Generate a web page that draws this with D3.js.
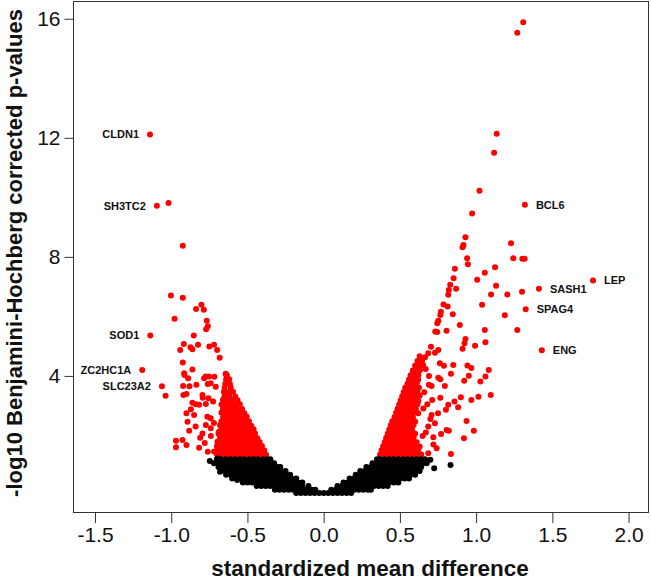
<!DOCTYPE html>
<html>
<head>
<meta charset="utf-8">
<script src="https://cdn.jsdelivr.net/npm/d3@7/dist/d3.min.js"></script>
<style>
  html, body { margin: 0; padding: 0; background: #fff; }
  svg { display: block; }
</style>
</head>
<body>
<div id="chart"></div>
<script>
// ---- data ----
const xTicks = [-1.5, -1.0, -0.5, 0.0, 0.5, 1.0, 1.5, 2.0]
const yTicks = [4, 8, 12, 16]

// labelled genes
const geneNames = ["CLDN1", "SH3TC2", "SOD1", "ZC2HC1A", "SLC23A2", "BCL6", "LEP", "SASH1", "SPAG4", "ENG"]
const geneX     = [-1.139, -1.094, -1.137, -1.190, -1.061, 1.320, 1.767, 1.412, 1.325, 1.431]
const geneY     = [12.11, 9.72, 5.36, 4.20, 3.65, 9.75, 7.21, 6.93, 6.24, 4.86]

// significant genes (red), scattered part, left side
const redLeft = [
  [-1.018,9.81],[-0.924,8.37],[-1.037,3.33],[-1.002,6.70],[-0.924,6.63],[-0.978,5.92],
  [-0.837,6.25],[-0.802,6.39],[-0.786,6.22],[-0.767,5.85],[-0.760,5.67],[-0.771,5.57],
  [-0.852,5.36],[-0.917,5.07],[-0.941,4.87],[-0.874,4.96],[-0.824,5.05],[-0.861,4.90],
  [-0.750,4.99],[-0.719,5.05],[-0.699,4.87],[-0.682,4.61],[-0.924,4.45],[-0.861,4.22],
  [-0.913,4.03],[-0.889,3.92],[-0.773,3.98],[-0.717,3.97],[-0.708,3.64],[-0.639,4.03],
  [-0.625,3.81],[-0.922,3.66],[-0.835,3.70],[-0.880,3.65],[-0.760,3.73],[-0.920,3.36],
  [-0.861,3.10],[-0.793,3.27],[-0.725,3.14],[-0.658,3.22],[-0.900,2.75],[-0.839,3.05],
  [-0.773,3.06],[-0.850,2.69],[-0.915,4.09],[-0.784,3.92],[-0.752,3.98],[-0.643,4.07],
  [-0.741,3.75],[-0.900,3.39],[-0.795,3.36],[-0.756,3.25],[-0.643,3.19],[-0.817,3.03],
  [-0.871,2.88],[-0.741,2.58],[-0.665,2.80],[-0.893,2.46],[-0.741,2.24],[-0.686,2.13],
  [-0.882,2.16],[-0.969,1.82],[-0.926,1.85],[-0.969,1.60],[-0.817,1.59],[-0.900,1.68],
  [-0.697,1.79],[-0.719,1.46],[-0.763,2.63],[-0.773,2.35],[-0.795,2.07],[-0.720,2.42],
  [-0.780,1.75],[-0.760,1.45],[-0.840,2.30],[-0.810,1.92],[-0.740,1.98]
]

// significant genes (red), dense wing on the left
const redLeftDense = [
  [-0.70,1.36],[-0.67,1.37],[-0.64,1.35],[-0.61,1.36],[-0.58,1.37],[-0.55,1.35],[-0.52,1.36],[-0.49,1.37],[-0.46,1.35],[-0.43,1.36],[-0.40,1.37],[-0.378,1.35],
  [-0.69,1.50],[-0.66,1.49],[-0.63,1.51],[-0.60,1.50],[-0.57,1.49],[-0.54,1.51],[-0.51,1.50],[-0.48,1.49],[-0.45,1.51],[-0.42,1.50],[-0.39,1.50],
  [-0.70,1.64],[-0.67,1.65],[-0.64,1.63],[-0.61,1.64],[-0.58,1.65],[-0.55,1.63],[-0.52,1.64],[-0.49,1.65],[-0.46,1.63],[-0.43,1.64],[-0.405,1.65],
  [-0.69,1.78],[-0.66,1.77],[-0.63,1.79],[-0.60,1.78],[-0.57,1.77],[-0.54,1.79],[-0.51,1.78],[-0.48,1.77],[-0.45,1.79],[-0.42,1.78],
  [-0.68,1.92],[-0.65,1.93],[-0.62,1.91],[-0.59,1.92],[-0.56,1.93],[-0.53,1.91],[-0.50,1.92],[-0.47,1.93],[-0.435,1.91],
  [-0.69,2.06],[-0.66,2.05],[-0.63,2.07],[-0.60,2.06],[-0.57,2.05],[-0.54,2.07],[-0.51,2.06],[-0.48,2.05],[-0.45,2.07],
  [-0.67,2.20],[-0.64,2.21],[-0.61,2.19],[-0.58,2.20],[-0.55,2.21],[-0.52,2.19],[-0.49,2.20],[-0.46,2.21],
  [-0.68,2.34],[-0.65,2.33],[-0.62,2.35],[-0.59,2.34],[-0.56,2.33],[-0.53,2.35],[-0.50,2.34],[-0.475,2.33],
  [-0.67,2.48],[-0.64,2.49],[-0.61,2.47],[-0.58,2.48],[-0.55,2.49],[-0.52,2.47],[-0.49,2.48],
  [-0.66,2.62],[-0.63,2.61],[-0.60,2.63],[-0.57,2.62],[-0.54,2.61],[-0.505,2.63],
  [-0.67,2.76],[-0.64,2.77],[-0.61,2.75],[-0.58,2.76],[-0.55,2.77],[-0.52,2.75],
  [-0.66,2.90],[-0.63,2.89],[-0.60,2.91],[-0.57,2.90],[-0.535,2.89],
  [-0.67,3.04],[-0.64,3.05],[-0.61,3.03],[-0.58,3.04],[-0.55,3.05],
  [-0.66,3.18],[-0.63,3.17],[-0.60,3.19],[-0.565,3.18],
  [-0.65,3.32],[-0.62,3.33],[-0.58,3.31],
  [-0.655,3.46],[-0.625,3.45],[-0.595,3.47],
  [-0.65,3.60],[-0.61,3.61],
  [-0.645,3.74],[-0.615,3.73],
  [-0.64,3.88],[-0.62,3.89],
  [-0.635,4.02]
]

// significant genes (red), scattered part, right side
const redRight = [
  [1.309,15.88],[1.270,15.53],[1.135,12.14],[1.118,11.50],[1.022,10.22],[0.974,9.46],
  [0.930,8.66],[0.917,8.40],[0.911,8.32],[1.229,8.46],[0.941,7.95],[0.946,7.75],
  [1.244,7.95],[1.303,7.94],[1.318,7.94],[1.124,7.65],[1.057,7.47],[0.861,7.60],
  [0.852,7.28],[1.007,7.23],[1.131,7.03],[0.830,7.06],[0.869,6.93],[0.817,6.73],
  [0.821,6.89],[1.301,6.83],[1.205,6.74],[1.098,6.74],[1.188,6.04],[1.039,6.39],
  [0.786,6.40],[0.813,6.33],[0.769,6.16],[0.765,6.05],[0.847,6.07],[0.752,5.85],
  [0.745,5.77],[0.893,5.71],[0.732,5.49],[0.745,5.48],[0.806,5.52],[1.057,5.54],
  [1.270,5.54],[0.930,5.24],[0.924,5.10],[1.061,5.13],[0.993,5.01],[0.911,4.91],
  [0.704,4.98],[0.752,4.87],[0.730,4.78],[0.686,4.76],[0.665,4.63],[0.762,4.43],
  [0.789,4.34],[0.850,4.37],[0.943,4.35],[0.969,4.27],[1.083,4.20],[0.652,4.37],
  [0.669,4.23],[0.691,4.00],[0.752,3.94],[0.835,4.07],[0.952,4.01],[1.061,3.98],
  [0.632,4.20],[0.621,4.03],[0.765,3.89],[0.795,3.66],[0.922,3.84],[1.028,3.81],
  [0.708,3.66],[0.621,3.16],[0.712,3.19],[0.765,3.27],[0.817,3.03],[0.858,3.14],
  [0.900,3.28],[0.969,3.19],[1.015,3.30],[1.096,3.36],[0.882,2.95],[0.802,2.86],
  [0.708,2.69],[0.654,2.91],[0.937,2.49],[0.806,2.18],[0.821,2.16],[0.985,2.16],
  [0.920,1.91],[0.741,1.57],[0.835,1.38],[0.719,1.94],[0.649,1.98],[0.686,2.30],
  [0.730,2.41],[0.686,1.40],[0.660,3.45],[0.680,3.05],[0.700,2.55],[0.670,2.10],
  [0.720,1.70],[0.750,2.75],[0.690,3.70],[0.770,2.05]
]

// significant genes (red), dense wing on the right
const redRightDense = [
  [0.37,1.36],[0.40,1.37],[0.43,1.35],[0.46,1.36],[0.49,1.37],[0.52,1.35],[0.55,1.36],[0.58,1.37],[0.61,1.35],[0.64,1.36],
  [0.38,1.50],[0.41,1.49],[0.44,1.51],[0.47,1.50],[0.50,1.49],[0.53,1.51],[0.56,1.50],[0.59,1.49],[0.62,1.51],
  [0.39,1.64],[0.42,1.65],[0.45,1.63],[0.48,1.64],[0.51,1.65],[0.54,1.63],[0.57,1.64],[0.60,1.65],[0.63,1.63],
  [0.40,1.78],[0.43,1.77],[0.46,1.79],[0.49,1.78],[0.52,1.77],[0.55,1.79],[0.58,1.78],[0.61,1.77],
  [0.41,1.92],[0.44,1.93],[0.47,1.91],[0.50,1.92],[0.53,1.93],[0.56,1.91],[0.59,1.92],
  [0.42,2.06],[0.45,2.05],[0.48,2.07],[0.51,2.06],[0.54,2.05],[0.57,2.07],[0.60,2.06],
  [0.43,2.20],[0.46,2.21],[0.49,2.19],[0.52,2.20],[0.55,2.21],[0.58,2.19],
  [0.44,2.34],[0.47,2.33],[0.50,2.35],[0.53,2.34],[0.56,2.33],[0.59,2.35],
  [0.45,2.48],[0.48,2.49],[0.51,2.47],[0.54,2.48],[0.57,2.49],[0.60,2.47],
  [0.465,2.62],[0.495,2.61],[0.525,2.63],[0.555,2.62],[0.585,2.61],
  [0.475,2.76],[0.505,2.77],[0.535,2.75],[0.565,2.76],[0.595,2.77],[0.62,2.75],
  [0.485,2.90],[0.515,2.89],[0.545,2.91],[0.575,2.90],[0.605,2.89],
  [0.495,3.04],[0.525,3.05],[0.555,3.03],[0.585,3.04],[0.615,3.05],
  [0.505,3.18],[0.535,3.17],[0.565,3.19],[0.595,3.18],
  [0.515,3.32],[0.545,3.33],[0.575,3.31],[0.605,3.32],[0.63,3.33],
  [0.525,3.46],[0.555,3.45],[0.585,3.47],[0.615,3.46],
  [0.535,3.60],[0.565,3.61],[0.595,3.59],[0.625,3.60],
  [0.55,3.74],[0.58,3.73],[0.61,3.75],
  [0.56,3.88],[0.59,3.89],[0.62,3.87],
  [0.57,4.02],[0.60,4.03],
  [0.585,4.18],[0.615,4.17],
  [0.60,4.34],[0.63,4.35],
  [0.615,4.50],[0.645,4.49],
  [0.63,4.66]
]

// non-significant genes (black)
const blackPoints = [
  [-0.70,1.20],[-0.67,1.20],[-0.64,1.20],[-0.61,1.20],[-0.58,1.20],[-0.55,1.20],[-0.52,1.20],[-0.49,1.20],[-0.46,1.20],[-0.43,1.20],[-0.40,1.20],[-0.37,1.20],[-0.35,1.20],
  [0.35,1.20],[0.37,1.20],[0.40,1.20],[0.43,1.20],[0.46,1.20],[0.49,1.20],[0.52,1.20],[0.55,1.20],[0.58,1.20],[0.61,1.20],[0.64,1.20],[0.665,1.20],
  [-0.72,1.07],[-0.69,1.07],[-0.66,1.07],[-0.63,1.07],[-0.60,1.07],[-0.57,1.07],[-0.54,1.07],[-0.51,1.07],[-0.48,1.07],[-0.45,1.07],[-0.42,1.07],[-0.39,1.07],[-0.36,1.07],[-0.325,1.07],
  [0.32,1.07],[0.35,1.07],[0.38,1.07],[0.41,1.07],[0.44,1.07],[0.47,1.07],[0.50,1.07],[0.53,1.07],[0.56,1.07],[0.59,1.07],[0.62,1.07],[0.65,1.07],[0.676,1.07],
  [-0.69,0.94],[-0.66,0.94],[-0.63,0.94],[-0.60,0.94],[-0.57,0.94],[-0.54,0.94],[-0.51,0.94],[-0.48,0.94],[-0.45,0.94],[-0.42,0.94],[-0.39,0.94],[-0.36,0.94],[-0.33,0.94],[-0.30,0.94],[-0.285,0.94],
  [0.28,0.94],[0.31,0.94],[0.34,0.94],[0.37,0.94],[0.40,0.94],[0.43,0.94],[0.46,0.94],[0.49,0.94],[0.52,0.94],[0.55,0.94],[0.58,0.94],[0.61,0.94],[0.64,0.94],
  [-0.67,0.81],[-0.64,0.81],[-0.61,0.81],[-0.58,0.81],[-0.55,0.81],[-0.52,0.81],[-0.49,0.81],[-0.46,0.81],[-0.43,0.81],[-0.40,0.81],[-0.37,0.81],[-0.34,0.81],[-0.31,0.81],[-0.28,0.81],[-0.25,0.81],
  [0.24,0.81],[0.27,0.81],[0.30,0.81],[0.33,0.81],[0.36,0.81],[0.39,0.81],[0.42,0.81],[0.45,0.81],[0.48,0.81],[0.51,0.81],[0.54,0.81],[0.57,0.81],[0.60,0.81],[0.63,0.81],
  [-0.64,0.68],[-0.61,0.68],[-0.58,0.68],[-0.55,0.68],[-0.52,0.68],[-0.49,0.68],[-0.46,0.68],[-0.43,0.68],[-0.40,0.68],[-0.37,0.68],[-0.34,0.68],[-0.31,0.68],[-0.28,0.68],[-0.25,0.68],[-0.22,0.68],
  [0.21,0.68],[0.24,0.68],[0.27,0.68],[0.30,0.68],[0.33,0.68],[0.36,0.68],[0.39,0.68],[0.42,0.68],[0.45,0.68],[0.48,0.68],[0.51,0.68],[0.54,0.68],[0.57,0.68],[0.60,0.68],
  [-0.60,0.55],[-0.57,0.55],[-0.54,0.55],[-0.51,0.55],[-0.48,0.55],[-0.45,0.55],[-0.42,0.55],[-0.39,0.55],[-0.36,0.55],[-0.33,0.55],[-0.30,0.55],[-0.27,0.55],[-0.24,0.55],[-0.21,0.55],[-0.18,0.55],
  [0.17,0.55],[0.20,0.55],[0.23,0.55],[0.26,0.55],[0.29,0.55],[0.32,0.55],[0.35,0.55],[0.38,0.55],[0.41,0.55],[0.44,0.55],[0.47,0.55],[0.50,0.55],[0.53,0.55],[0.56,0.55],
  [-0.53,0.42],[-0.50,0.42],[-0.47,0.42],[-0.44,0.42],[-0.41,0.42],[-0.38,0.42],[-0.35,0.42],[-0.32,0.42],[-0.29,0.42],[-0.26,0.42],[-0.23,0.42],[-0.20,0.42],[-0.17,0.42],[-0.14,0.42],
  [0.13,0.42],[0.16,0.42],[0.19,0.42],[0.22,0.42],[0.25,0.42],[0.28,0.42],[0.31,0.42],[0.34,0.42],[0.37,0.42],[0.40,0.42],[0.43,0.42],[0.46,0.42],[0.49,0.42],
  [-0.44,0.30],[-0.41,0.30],[-0.38,0.30],[-0.35,0.30],[-0.32,0.30],[-0.29,0.30],[-0.26,0.30],[-0.23,0.30],[-0.20,0.30],[-0.17,0.30],[-0.14,0.30],[-0.10,0.30],
  [0.09,0.30],[0.12,0.30],[0.15,0.30],[0.18,0.30],[0.21,0.30],[0.24,0.30],[0.27,0.30],[0.30,0.30],[0.33,0.30],[0.36,0.30],[0.39,0.30],[0.42,0.30],
  [-0.32,0.18],[-0.29,0.18],[-0.26,0.18],[-0.23,0.18],[-0.20,0.18],[-0.17,0.18],[-0.14,0.18],[-0.11,0.18],[-0.08,0.18],[-0.055,0.18],
  [0.05,0.18],[0.08,0.18],[0.11,0.18],[0.14,0.18],[0.17,0.18],[0.20,0.18],[0.23,0.18],[0.26,0.18],[0.29,0.18],[0.31,0.18],
  [-0.18,0.07],[-0.15,0.07],[-0.12,0.07],[-0.09,0.07],[-0.06,0.07],[-0.03,0.07],[0.00,0.07],[0.03,0.07],[0.06,0.07],[0.09,0.07],[0.12,0.07],[0.15,0.07],[0.18,0.07],
  [-0.747,1.14],[-0.697,1.23],[-0.665,0.95],[-0.680,0.78],[-0.567,0.50],[0.725,0.90],[0.832,1.01],[0.700,1.18]
]

// ---- drawing ----
const W = 651, H = 580
const FONT = "'Liberation Sans', Arial, Helvetica, sans-serif"

const svg = d3.select("#chart").append("svg")
  .attr("width", W)
  .attr("height", H)

const x = d3.scaleLinear().domain([-1.641, 2.134]).range([73.5, 649])
const y = d3.scaleLinear().domain([-0.605, 16.63]).range([513, 0])

// points: red first, black on top (as in the original plot)
const red = redLeftDense.concat(redRightDense, redLeft, redRight,
  geneNames.map((_, i) => [geneX[i], geneY[i]]))

svg.append("g").selectAll("circle")
  .data(red)
  .join("circle")
  .attr("cx", d => x(d[0]))
  .attr("cy", d => y(d[1]))
  .attr("r", 3)
  .attr("fill", "#ff0000")

svg.append("g").selectAll("circle")
  .data(blackPoints)
  .join("circle")
  .attr("cx", d => x(d[0]))
  .attr("cy", d => y(d[1]))
  .attr("r", 3)
  .attr("fill", "#000")

// gene labels
svg.append("g").selectAll("text")
  .data(geneNames)
  .join("text")
  .attr("x", (d, i) => geneX[i] < 0 ? x(geneX[i]) - 11 : x(geneX[i]) + 11)
  .attr("y", (d, i) => y(geneY[i]))
  .attr("dy", "0.35em")
  .attr("text-anchor", (d, i) => geneX[i] < 0 ? "end" : "start")
  .attr("font-family", FONT)
  .attr("font-size", "11px")
  .attr("font-weight", "bold")
  .attr("fill", "#111")
  .text(d => d)

// box
svg.append("rect")
  .attr("x", 73.5).attr("y", 1.5)
  .attr("width", 575).attr("height", 511)
  .attr("fill", "none")
  .attr("stroke", "#333")
  .attr("stroke-width", 1)

// axes
const xAxis = svg.append("g")
  .attr("transform", "translate(0,513)")
  .call(d3.axisBottom(x).tickValues(xTicks).tickSize(10).tickPadding(4))
const yAxis = svg.append("g")
  .attr("transform", "translate(73.5,0)")
  .call(d3.axisLeft(y).tickValues(yTicks).tickFormat(d3.format("d")).tickSize(9).tickPadding(4))

for (const ax of [xAxis, yAxis]) {
  ax.select(".domain").remove()
  ax.selectAll(".tick line").attr("stroke", "#333")
  ax.selectAll(".tick text")
    .attr("font-family", FONT)
    .attr("font-size", "21px")
    .attr("fill", "#111")
}
xAxis.selectAll(".tick text").text(d => (d < 0 ? "-" : "") + d3.format(".1f")(Math.abs(d)))

// axis titles
svg.append("text")
  .attr("x", 370).attr("y", 576)
  .attr("text-anchor", "middle")
  .attr("font-family", FONT)
  .attr("font-size", "22.5px")
  .attr("font-weight", "bold")
  .attr("fill", "#111")
  .text("standardized mean difference")

svg.append("text")
  .attr("transform", "translate(22,253) rotate(-90)")
  .attr("text-anchor", "middle")
  .attr("font-family", FONT)
  .attr("font-size", "22px")
  .attr("font-weight", "bold")
  .attr("fill", "#111")
  .text("-log10 Benjamini-Hochberg corrected p-values")
</script>
</body>
</html>
